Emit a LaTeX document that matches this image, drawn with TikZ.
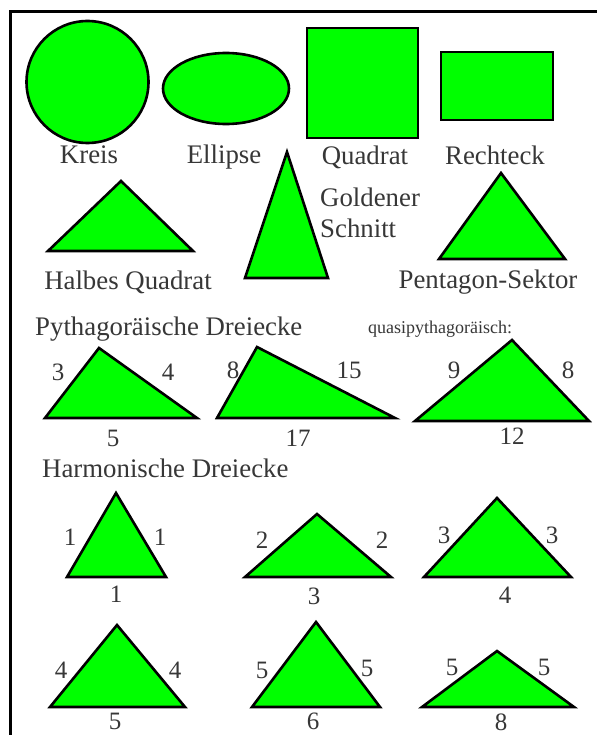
\documentclass[tikz,border=0pt]{standalone}
\usepackage{fontspec}
\setmainfont{Liberation Serif}
\definecolor{lime}{RGB}{0,255,0}
\definecolor{txt}{RGB}{55,55,55}
\begin{document}
\begin{tikzpicture}[x=1pt,y=-1pt,
 fig/.style={draw=black,fill=lime,line width=2.6pt},
 lbl/.style={text=txt,font=\fontsize{26.8}{30}\selectfont,inner sep=0pt},
 num/.style={text=txt,font=\fontsize{25}{30}\selectfont,inner sep=0pt},
 small/.style={text=txt,font=\fontsize{18}{20}\selectfont,inner sep=0pt}]
\useasboundingbox (0,0) rectangle (597,735);
\fill[white] (0,0) rectangle (597,735);
\draw[line width=3pt] (10,735) -- (10,12) -- (597,12);
% row 1
\draw[fig] (87.5,82) circle (61);
\draw[fig] (226,88.5) ellipse (63 and 35.5);
\draw[fig] (307,28) rectangle (418,138);
\draw[fig] (441,52) rectangle (553,120);
\node[lbl,anchor=base] (kreis) at (89,164) {Kreis};
\node[lbl,anchor=base] (ellipse) at (224,164) {Ellipse};
\node[lbl,anchor=base] (quadrat) at (365,165) {Quadrat};
\node[lbl,anchor=base] (rechteck) at (495,165) {Rechteck};
% row 2
\draw[fig] (48,251) -- (121,181) -- (193,251) -- cycle;
\node[lbl,anchor=base] (halb) at (128,289) {Halbes Quadrat};
\draw[fig] (245,278) -- (287,152) -- (328,278) -- cycle;
\node[lbl,anchor=base west] (gold1) at (320,207) {Goldener};
\node[lbl,anchor=base west] (gold2) at (320,237) {Schnitt};
\draw[fig] (439,259) -- (501,173) -- (565,259) -- cycle;
\node[lbl,anchor=base] (penta) at (488,288) {Pentagon-Sektor};
% row 3
\node[lbl,anchor=base west] (pyth) at (35,335) {Pythagoräische Dreiecke};
\node[small,anchor=base] (quasi) at (440,333) {quasipythagoräisch:};
\draw[fig] (45,418) -- (99,348) -- (197,418) -- cycle;
\node[num] (p1a) at (58,372) {3};
\node[num] (p1b) at (168,372) {4};
\node[num] (p1c) at (113,438) {5};
\draw[fig] (217,418) -- (257,347) -- (395,418) -- cycle;
\node[num] (p2a) at (233,370) {8};
\node[num] (p2b) at (349,370) {15};
\node[num] (p2c) at (298,438) {17};
\draw[fig] (415,421) -- (512,340) -- (589,421) -- cycle;
\node[num] (p3a) at (454,370) {9};
\node[num] (p3b) at (568,370) {8};
\node[num] (p3c) at (512,436) {12};
% row 4
\node[lbl,anchor=base west] (harm) at (42,477) {Harmonische Dreiecke};
\draw[fig] (67,577) -- (116,493) -- (166,577) -- cycle;
\node[num] (h1a) at (70,537) {1};
\node[num] (h1b) at (160,537) {1};
\node[num] (h1c) at (116,594) {1};
\draw[fig] (245,577) -- (317,514) -- (391,577) -- cycle;
\node[num] (h2a) at (262,540) {2};
\node[num] (h2b) at (382,540) {2};
\node[num] (h2c) at (314,596) {3};
\draw[fig] (424,577) -- (497,498) -- (571,577) -- cycle;
\node[num] (h3a) at (444,535) {3};
\node[num] (h3b) at (552,535) {3};
\node[num] (h3c) at (505,595) {4};
% row 5
\draw[fig] (50,707) -- (117,625) -- (185,707) -- cycle;
\node[num] (h4a) at (61,670) {4};
\node[num] (h4b) at (175,670) {4};
\node[num] (h4c) at (115,721) {5};
\draw[fig] (252,707) -- (316,622) -- (380,707) -- cycle;
\node[num] (h5a) at (262,670) {5};
\node[num] (h5b) at (367,668) {5};
\node[num] (h5c) at (313,721) {6};
\draw[fig] (422,707) -- (497,651) -- (574,707) -- cycle;
\node[num] (h6a) at (452,667) {5};
\node[num] (h6b) at (544,667) {5};
\node[num] (h6c) at (501,722) {8};
\end{tikzpicture}
\end{document}
